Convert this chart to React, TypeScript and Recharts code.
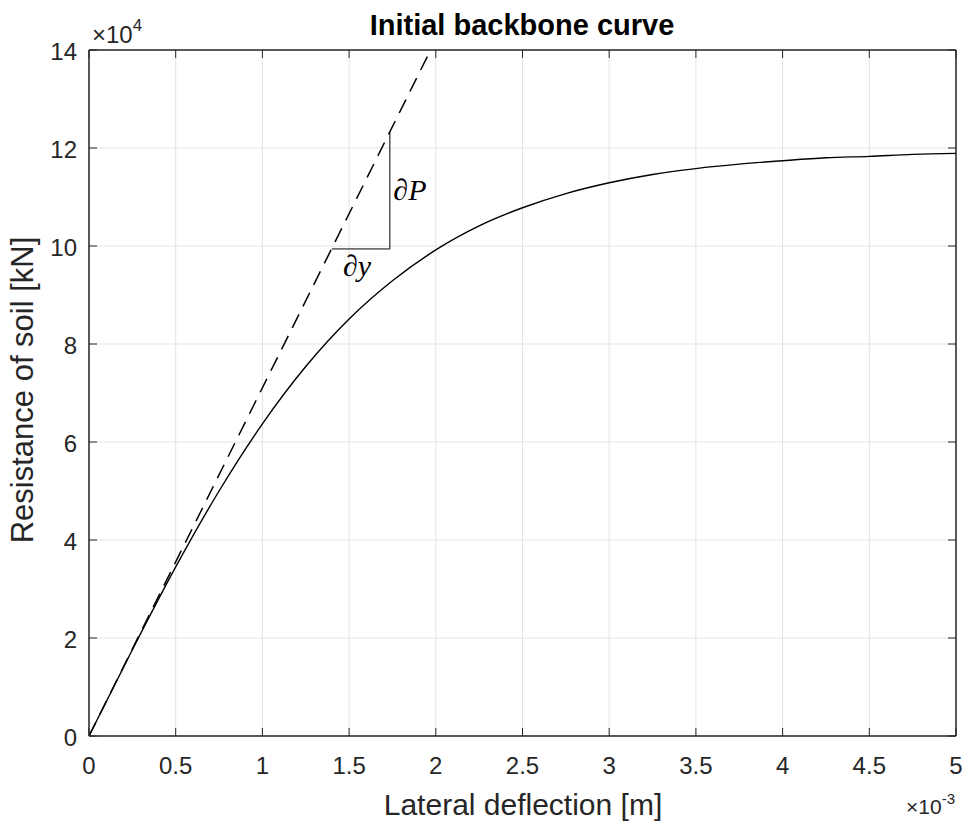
import { LineChart, Line, XAxis, YAxis, CartesianGrid, ReferenceLine, ReferenceDot } from "recharts";

// lateral deflection in 1e-3 m, resistance in 1e4 kN (axis multipliers shown separately)
const deflection = [0, 0.25, 0.5, 0.75, 1, 1.25, 1.5, 1.75, 2, 2.25, 2.5, 2.75, 3, 3.25, 3.5, 3.75, 4, 4.25, 4.5, 4.75, 5];
const resistance = [0, 1.76, 3.45, 5.0, 6.37, 7.54, 8.51, 9.29, 9.92, 10.41, 10.78, 11.07, 11.29, 11.46, 11.58, 11.67, 11.74, 11.8, 11.83, 11.87, 11.89];

// initial tangent (dashed)
const tangentX = [0, 1.97];
const tangentY = [0, 14];

// slope triangle dP / dy
const triangleX = [1.4, 1.735, 1.735];
const triangleY = [9.94, 9.94, 12.32];

const xTicks = [0, 0.5, 1, 1.5, 2, 2.5, 3, 3.5, 4, 4.5, 5];
const yTicks = [0, 2, 4, 6, 8, 10, 12, 14];

const W = 962;
const H = 821;
const PLOT = { left: 89, right: 956, top: 50, bottom: 736 };
const AXIS_COLOR = "#262626";
const FONT = "'Liberation Sans', Arial, Helvetica, sans-serif";
const MATH_FONT = "'Liberation Serif', 'DejaVu Serif', serif";

const curveData = deflection.map((x, i) => ({ x, y: resistance[i] }));
const tangentData = tangentX.map((x, i) => ({ x, y: tangentY[i] }));
const triangleData = triangleX.map((x, i) => ({ x, y: triangleY[i] }));

function XTick(props: any) {
  const { x, payload } = props;
  return (
    <g>
      <line x1={x} x2={x} y1={PLOT.bottom} y2={PLOT.bottom - 8} stroke={AXIS_COLOR} strokeWidth={1} />
      <line x1={x} x2={x} y1={PLOT.top} y2={PLOT.top + 8} stroke={AXIS_COLOR} strokeWidth={1} />
      <text x={x} y={PLOT.bottom + 38} textAnchor="middle" fontSize={24} fill="#262626" fontFamily={FONT}>
        {payload.value}
      </text>
    </g>
  );
}

function YTick(props: any) {
  const { y, payload } = props;
  return (
    <g>
      <line x1={PLOT.left} x2={PLOT.left + 8} y1={y} y2={y} stroke={AXIS_COLOR} strokeWidth={1} />
      <line x1={PLOT.right} x2={PLOT.right - 8} y1={y} y2={y} stroke={AXIS_COLOR} strokeWidth={1} />
      <text x={PLOT.left - 12} y={y + 10} textAnchor="end" fontSize={24} fill="#262626" fontFamily={FONT}>
        {payload.value}
      </text>
    </g>
  );
}

function MathLabel(text: string) {
  return (props: any) => (
    <text x={props.cx} y={props.cy} fontSize={30} fontStyle="italic" fill="#000" fontFamily={MATH_FONT}>
      {text}
    </text>
  );
}

export default function App() {
  return (
    <div style={{ position: "fixed", left: 0, top: 0, width: W, height: H, background: "#fff" }}>
      <LineChart
        width={W}
        height={H}
        margin={{ top: PLOT.top, right: W - PLOT.right, left: PLOT.left - 60, bottom: H - PLOT.bottom - 40 }}
      >
        <CartesianGrid stroke="#e3e3e3" strokeWidth={1} horizontalValues={yTicks} verticalValues={xTicks} />
        <XAxis
          type="number"
          dataKey="x"
          domain={[0, 5]}
          ticks={xTicks}
          height={40}
          tickLine={false}
          tick={<XTick />}
          axisLine={{ stroke: AXIS_COLOR, strokeWidth: 1.5 }}
          allowDataOverflow
        />
        <YAxis
          type="number"
          dataKey="y"
          domain={[0, 14]}
          ticks={yTicks}
          width={60}
          tickLine={false}
          tick={<YTick />}
          axisLine={{ stroke: AXIS_COLOR, strokeWidth: 1.5 }}
          allowDataOverflow
        />
        <ReferenceLine y={14} stroke={AXIS_COLOR} strokeWidth={1.5} />
        <ReferenceLine x={5} stroke={AXIS_COLOR} strokeWidth={1.5} />
        <Line
          data={tangentData}
          dataKey="y"
          type="linear"
          stroke="#000"
          strokeWidth={1.5}
          strokeDasharray="15 9"
          dot={false}
          isAnimationActive={false}
        />
        <Line
          data={curveData}
          dataKey="y"
          type="monotone"
          stroke="#000"
          strokeWidth={1.4}
          dot={false}
          isAnimationActive={false}
        />
        <Line
          data={triangleData}
          dataKey="y"
          type="linear"
          stroke="#000"
          strokeWidth={1}
          dot={false}
          isAnimationActive={false}
        />
        <ReferenceDot x={1.755} y={10.94} r={0} shape={MathLabel("\u2202P")} />
        <ReferenceDot x={1.465} y={9.39} r={0} shape={MathLabel("\u2202y")} />
      </LineChart>
      <svg
        width={W}
        height={H}
        style={{ position: "absolute", left: 0, top: 0, pointerEvents: "none" }}
        fontFamily={FONT}
      >
        <text x={522} y={35} textAnchor="middle" fontSize={29} fontWeight="bold" fill="#000">
          Initial backbone curve
        </text>
        <text x={523} y={815} textAnchor="middle" fontSize={30} fill="#262626">
          Lateral deflection [m]
        </text>
        <text x={33} y={390} textAnchor="middle" fontSize={31} fill="#262626" transform="rotate(-90 33 390)">
          Resistance of soil [kN]
        </text>
        <text x={92} y={43} fontSize={24} fill="#262626">
          {"\u00d710"}
          <tspan fontSize={17} dy={-12}>4</tspan>
        </text>
        <text x={955} y={814} textAnchor="end" fontSize={21} fill="#262626">
          {"\u00d710"}
          <tspan fontSize={15} dy={-10}>-3</tspan>
        </text>
      </svg>
    </div>
  );
}
